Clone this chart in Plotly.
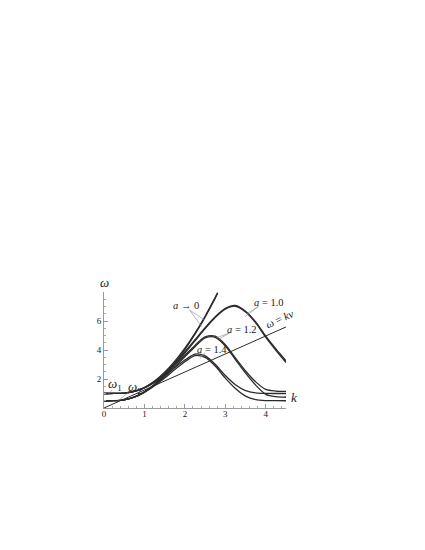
import plotly.graph_objects as go

k = [0, 0.25, 0.5, 0.75, 1, 1.25, 1.5, 1.75, 2, 2.25, 2.5, 2.75, 3, 3.25, 3.5, 3.75, 4, 4.25, 4.5]

# a -> 0 branches (end a little past k = 2.75)
k0 = [0, 0.25, 0.5, 0.75, 1, 1.25, 1.5, 1.75, 2, 2.25, 2.5, 2.75, 2.81]
w1_a0 = [1.0, 1.002, 1.031, 1.147, 1.414, 1.855, 2.462, 3.222, 4.123, 5.160, 6.330, 7.628, 7.959]
w2_a0 = [0.5, 0.504, 0.559, 0.767, 1.118, 1.640, 2.305, 3.103, 4.031, 5.087, 6.270, 7.579, 7.912]

w1_a10 = [1.0, 1.002, 1.031, 1.146, 1.407, 1.828, 2.398, 3.096, 3.881, 4.707, 5.541, 6.300, 6.873, 7.071, 6.675, 5.935, 4.952, 4.075, 3.257]
w2_a10 = [0.5, 0.504, 0.559, 0.751, 1.109, 1.610, 2.237, 2.972, 3.783, 4.627, 5.473, 6.240, 6.818, 7.018, 6.619, 5.871, 4.876, 3.982, 3.140]

w1_a12 = [1.0, 1.002, 1.031, 1.141, 1.393, 1.803, 2.326, 2.954, 3.640, 4.317, 4.903, 4.952, 4.366, 3.448, 2.554, 1.803, 1.281, 1.166, 1.141]
w2_a12 = [0.5, 0.504, 0.559, 0.743, 1.091, 1.581, 2.159, 2.825, 3.536, 4.230, 4.826, 4.876, 4.279, 3.338, 2.403, 1.581, 0.943, 0.781, 0.743]

w1_a14 = [1.0, 1.002, 1.031, 1.141, 1.379, 1.761, 2.236, 2.786, 3.305, 3.717, 3.592, 3.020, 2.236, 1.601, 1.193, 1.044, 1.007, 1.001, 1.0]
w2_a14 = [0.5, 0.504, 0.559, 0.743, 1.074, 1.534, 2.062, 2.648, 3.189, 3.615, 3.486, 2.894, 2.062, 1.346, 0.820, 0.583, 0.514, 0.502, 0.5]

k_line = [0, 4.5]
w_line = [0, 5.59]

x_ticks = [0, 1, 2, 3, 4]
y_ticks = [2, 4, 6]

CURVE = "#2b2b2b"
FONT = "Liberation Serif"

fig = go.Figure()
for xs, ys in [(k0, w1_a0), (k0, w2_a0), (k, w1_a10), (k, w2_a10),
               (k, w1_a12), (k, w2_a12), (k, w1_a14), (k, w2_a14)]:
    fig.add_trace(go.Scatter(x=xs, y=ys, mode="lines",
                             line=dict(color=CURVE, width=1.3, shape="spline", smoothing=0.8),
                             showlegend=False, hoverinfo="skip"))
fig.add_trace(go.Scatter(x=k_line, y=w_line, mode="lines",
                         line=dict(color=CURVE, width=1.0),
                         showlegend=False, hoverinfo="skip"))

ann = []
def label(x, y, text, size=10.5, angle=0):
    ann.append(dict(x=x, y=y, xref="x", yref="y", text=text, showarrow=False,
                    font=dict(family=FONT, size=size, color="#222"), textangle=angle))

def callout(x0, y0, x1, y1):
    fig.add_shape(type="line", x0=x0, y0=y0, x1=x1, y1=y1, xref="x", yref="y",
                  line=dict(color="#888", width=0.6))

label(2.03, 7.07, "<i>a</i> → 0")
callout(2.12, 6.75, 2.47, 6.1)
callout(2.12, 6.75, 2.42, 5.6)
label(4.07, 7.26, "<i>a</i> = 1.0")
callout(3.82, 7.0, 3.53, 6.5)
callout(3.82, 7.0, 3.49, 6.3)
label(3.40, 5.41, "<i>a</i> = 1.2")
callout(3.12, 5.2, 2.79, 4.85)
callout(3.12, 5.2, 2.84, 4.75)
label(2.67, 4.03, "<i>a</i> = 1.4")
callout(2.50, 3.75, 2.33, 3.55)
callout(2.50, 3.75, 2.38, 3.45)
label(4.33, 6.12, "<i>ω</i> = <i>kv</i>", size=11, angle=-24)
label(0.28, 1.62, "<i>ω</i><sub>1</sub>", size=13)
callout(0.20, 1.25, 0.12, 0.98)
label(0.76, 1.42, "<i>ω</i><sub>2</sub>", size=13)
callout(0.60, 1.08, 0.35, 0.49)
# axis titles
ann.append(dict(x=0, y=8.0, xref="x", yref="y", text="<i>ω</i>", showarrow=False,
                xanchor="center", yanchor="bottom", font=dict(family=FONT, size=13, color="#222")))
ann.append(dict(x=4.5, y=0.05, xref="x", yref="y", text="<i>k</i>", showarrow=False,
                xanchor="left", yanchor="bottom", xshift=3, font=dict(family=FONT, size=13, color="#222")))

fig.update_layout(
    width=409, height=534,
    margin=dict(l=96, r=131, t=284, b=134, autoexpand=False),
    plot_bgcolor="white", paper_bgcolor="white",
    annotations=ann,
    xaxis=dict(range=[0, 4.5], showgrid=False, zeroline=False, showline=True,
               linecolor="#999", linewidth=0.8, tickvals=x_ticks,
               ticks="inside", ticklen=4, tickcolor="#999", tickwidth=0.8,
               minor=dict(dtick=0.2, ticks="inside", ticklen=2, tickcolor="#aaa", tickwidth=0.6),
               tickfont=dict(family=FONT, size=9, color="#222"), ticklabelstandoff=-3,
               fixedrange=True),
    yaxis=dict(range=[0, 8.0], showgrid=False, zeroline=False, showline=True,
               linecolor="#999", linewidth=0.8, tickvals=y_ticks,
               ticks="inside", ticklen=4, tickcolor="#999", tickwidth=0.8,
               minor=dict(dtick=0.5, ticks="inside", ticklen=2, tickcolor="#aaa", tickwidth=0.6),
               tickfont=dict(family=FONT, size=9, color="#222"),
               fixedrange=True),
)
fig.write_html("out.html")
